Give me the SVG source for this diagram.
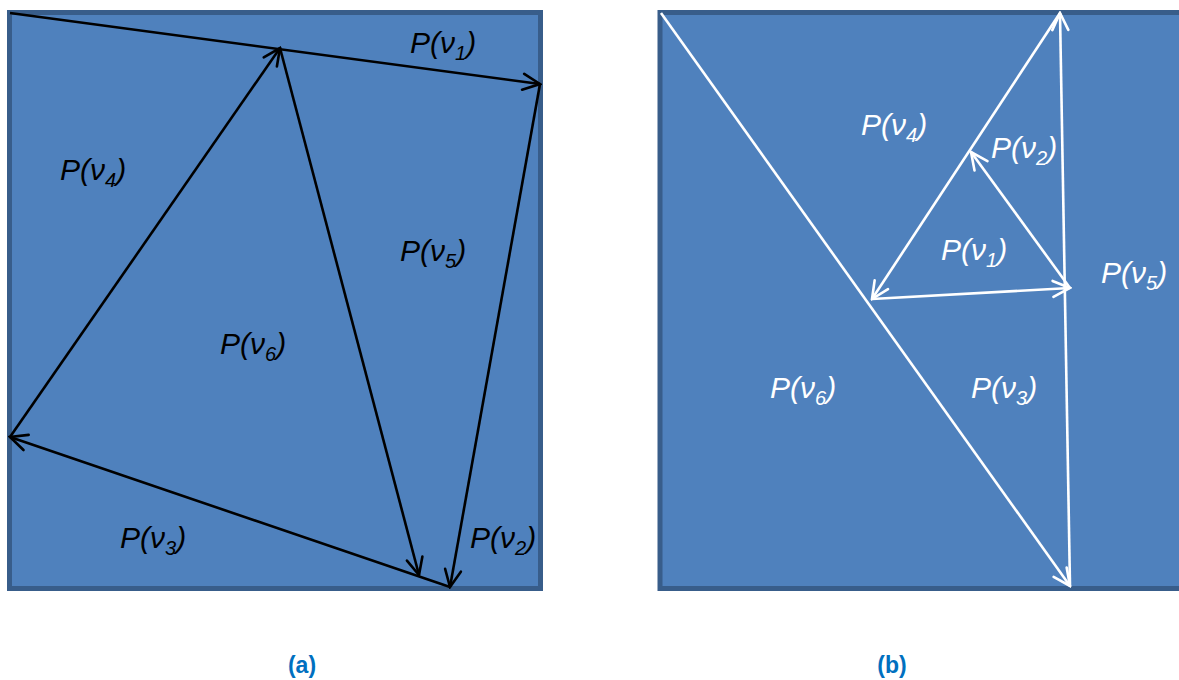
<svg xmlns="http://www.w3.org/2000/svg" width="1179" height="680" viewBox="0 0 1179 680">
<style>
.panel{fill:#4f81bd;stroke:#385d8a;stroke-width:5}
.k{stroke:#000;stroke-width:2.6;fill:none}
.w{stroke:#fff;stroke-width:2.6;fill:none}
.lbl{font-family:"Liberation Sans",Arial,sans-serif;font-style:italic;font-size:30px}
.lk{fill:#000}
.lw{fill:#fff}
.sub{font-size:20px}
.cap{font-family:"Liberation Sans",Arial,sans-serif;font-weight:bold;font-size:23px;fill:#0070c0;text-anchor:middle}
</style>
<defs>
<marker id="ak" viewBox="-20 -10 22 20" refX="0" refY="0" markerWidth="22" markerHeight="20" markerUnits="userSpaceOnUse" orient="auto">
<path d="M-17,-8 L0,0 L-17,8" fill="none" stroke="#000" stroke-width="2.6" stroke-linecap="round" stroke-linejoin="miter"/>
</marker>
<marker id="aw" viewBox="-20 -10 22 20" refX="0" refY="0" markerWidth="22" markerHeight="20" markerUnits="userSpaceOnUse" orient="auto">
<path d="M-17,-8 L0,0 L-17,8" fill="none" stroke="#fff" stroke-width="2.6" stroke-linecap="round" stroke-linejoin="miter"/>
</marker>
</defs>
<rect class="panel" x="9.5" y="12.5" width="531" height="576"/>
<rect class="panel" x="660" y="12.5" width="600" height="576"/>
<g id="connectors">
<line class="k" x1="10" y1="13" x2="540" y2="84" marker-end="url(#ak)"/>
<line class="k" x1="10" y1="437" x2="280" y2="48" marker-end="url(#ak)"/>
<line class="k" x1="280" y1="48" x2="419" y2="575" marker-end="url(#ak)"/>
<line class="k" x1="540" y1="84" x2="450" y2="587" marker-end="url(#ak)"/>
<line class="k" x1="450" y1="587" x2="10" y2="437" marker-end="url(#ak)"/>
<line class="w" x1="661" y1="13" x2="1070" y2="586" marker-end="url(#aw)"/>
<line class="w" x1="1070" y1="586" x2="1060" y2="13" marker-end="url(#aw)"/>
<line class="w" x1="1060" y1="13" x2="872" y2="299" marker-end="url(#aw)"/>
<line class="w" x1="872" y1="299" x2="1070" y2="288" marker-end="url(#aw)"/>
<line class="w" x1="1070" y1="288" x2="971" y2="152" marker-end="url(#aw)"/>
</g>
<g id="labels-a">
<text class="lbl lk" x="410" y="53">P(ν<tspan class="sub" dy="7">1</tspan><tspan dy="-7">)</tspan></text>
<text class="lbl lk" x="60" y="180">P(ν<tspan class="sub" dy="7">4</tspan><tspan dy="-7">)</tspan></text>
<text class="lbl lk" x="400" y="261">P(ν<tspan class="sub" dy="7">5</tspan><tspan dy="-7">)</tspan></text>
<text class="lbl lk" x="220" y="354">P(ν<tspan class="sub" dy="7">6</tspan><tspan dy="-7">)</tspan></text>
<text class="lbl lk" x="120" y="548">P(ν<tspan class="sub" dy="7">3</tspan><tspan dy="-7">)</tspan></text>
<text class="lbl lk" x="470" y="548">P(ν<tspan class="sub" dy="7">2</tspan><tspan dy="-7">)</tspan></text>
</g>
<g id="labels-b">
<text class="lbl lw" x="861" y="135">P(ν<tspan class="sub" dy="7">4</tspan><tspan dy="-7">)</tspan></text>
<text class="lbl lw" x="991" y="158">P(ν<tspan class="sub" dy="7">2</tspan><tspan dy="-7">)</tspan></text>
<text class="lbl lw" x="941" y="260">P(ν<tspan class="sub" dy="7">1</tspan><tspan dy="-7">)</tspan></text>
<text class="lbl lw" x="1101" y="283">P(ν<tspan class="sub" dy="7">5</tspan><tspan dy="-7">)</tspan></text>
<text class="lbl lw" x="971" y="398">P(ν<tspan class="sub" dy="7">3</tspan><tspan dy="-7">)</tspan></text>
<text class="lbl lw" x="770" y="398">P(ν<tspan class="sub" dy="7">6</tspan><tspan dy="-7">)</tspan></text>
</g>
<g id="captions">
<text class="cap" x="302" y="673">(a)</text>
<text class="cap" x="892" y="673">(b)</text>
</g>
</svg>
